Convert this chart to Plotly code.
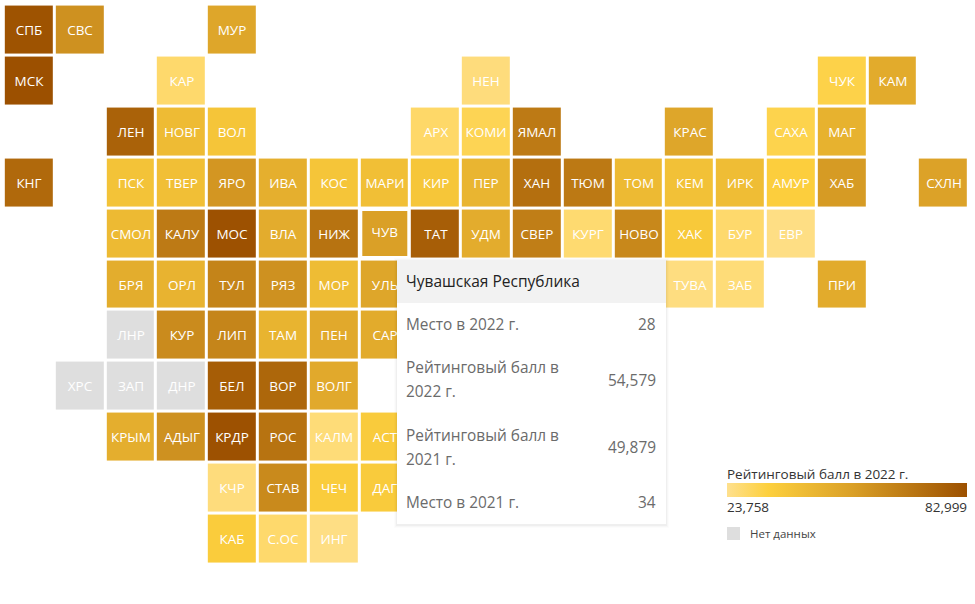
import plotly.graph_objects as go

# Tile-grid data: region code, grid column, grid row, rating score 2022 (None = no data)
regions = ["СПБ","СВС","МУР",
           "МСК","КАР","НЕН","ЧУК","КАМ",
           "ЛЕН","НОВГ","ВОЛ","АРХ","КОМИ","ЯМАЛ","КРАС","САХА","МАГ",
           "КНГ","ПСК","ТВЕР","ЯРО","ИВА","КОС","МАРИ","КИР","ПЕР","ХАН","ТЮМ","ТОМ","КЕМ","ИРК","АМУР","ХАБ","СХЛН",
           "СМОЛ","КАЛУ","МОС","ВЛА","НИЖ","ТАТ","УДМ","СВЕР","КУРГ","НОВО","ХАК","БУР","ЕВР",
           "БРЯ","ОРЛ","ТУЛ","РЯЗ","МОР","УЛЬ","ТУВА","ЗАБ","ПРИ",
           "ЛНР","КУР","ЛИП","ТАМ","ПЕН","САР",
           "ХРС","ЗАП","ДНР","БЕЛ","ВОР","ВОЛГ",
           "КРЫМ","АДЫГ","КРДР","РОС","КАЛМ","АСТ",
           "КЧР","СТАВ","ЧЕЧ","ДАГ",
           "КАБ","С.ОС","ИНГ"]
grid_col = [0,1,4,
            0,3,9,16,17,
            2,3,4,8,9,10,13,15,16,
            0,2,3,4,5,6,7,8,9,10,11,12,13,14,15,16,18,
            2,3,4,5,6,8,9,10,11,12,13,14,15,
            2,3,4,5,6,7,13,14,16,
            2,3,4,5,6,7,
            1,2,3,4,5,6,
            2,3,4,5,6,7,
            4,5,6,7,
            4,5,6]
grid_row = [0]*3 + [1]*5 + [2]*9 + [3]*17 + [4]*13 + [5]*9 + [6]*6 + [7]*6 + [8]*6 + [9]*4 + [10]*3
scores = [82000,60000,52000,
          82999,28000,26000,32500,50000,
          76500,43000,38500,28500,31000,68000,52000,32000,47000,
          74000,39500,41000,58000,48000,38500,41000,38000,45500,72000,68500,43500,40500,42000,34500,56500,53500,
          43500,68000,82500,49500,70500,78000,49500,66500,27500,63000,37000,28000,25000,
          49000,46500,64500,60000,42500,52000,25500,26500,50000,
          None,62000,64000,46000,50500,50000,
          None,None,None,78500,75000,50500,
          48500,60000,82500,70500,26500,36000,
          26000,62500,35500,36000,
          35500,28000,25000]

hover_region = "ЧУВ"
hover_col, hover_row = 7, 4
hover_name = "Чувашская Республика"
score_min, score_max = 23758, 82999
hover_labels = [["Место в 2022 г."],
                ["Рейтинговый балл в", "2022 г."],
                ["Рейтинговый балл в", "2021 г."],
                ["Место в 2021 г."]]
hover_values = ["28", "54,579", "49,879", "34"]
hover_score = 54579

W, H = 975, 604
colorscale = [[0, "#FEE08E"], [0.17, "#FDD03E"], [0.52, "#DAA027"], [1, "#9C5000"]]
n_col, n_row = 19, 11
xs = list(range(n_col)); ys = list(range(n_row))
z = [[None]*n_col for _ in ys]
t = [[""]*n_col for _ in ys]
zna = [[None]*n_col for _ in ys]
tna = [[""]*n_col for _ in ys]
for name, c, r, v in zip(regions, grid_col, grid_row, scores):
    if v is None:
        zna[r][c] = 1; tna[r][c] = name
    else:
        z[r][c] = v; t[r][c] = name

FONT = "Open Sans"
tile_font = dict(family=FONT, size=13.5, color="white")
fig = go.Figure()
fig.add_trace(go.Heatmap(x=xs, y=ys, z=zna, text=tna, texttemplate="%{text}", textfont=tile_font,
                         colorscale=[[0, "#DEDEDE"], [1, "#DEDEDE"]], showscale=False,
                         xgap=3, ygap=3, hoverinfo="skip"))
fig.add_trace(go.Heatmap(x=xs, y=ys, z=z, text=t, texttemplate="%{text}", textfont=tile_font,
                         coloraxis="coloraxis", xgap=3, ygap=3, hoverinfo="skip"))
fig.add_trace(go.Scatter(x=[hover_col], y=[hover_row], mode="markers+text", text=[hover_region],
                         textposition="middle center", textfont=tile_font, hoverinfo="skip",
                         marker=dict(symbol="square", size=45, color=[hover_score], coloraxis="coloraxis",
                                     line=dict(width=0))))

shapes = []
def rect(x0, y0, x1, y1, color):
    shapes.append(dict(type="rect", xref="paper", yref="paper", x0=x0/W, x1=x1/W, y0=1-y0/H, y1=1-y1/H,
                       fillcolor=color, line=dict(width=0), layer="above"))
for d, a in [(3, 0.012), (2, 0.02), (1, 0.03)]:
    rect(397-d, 260-d+1, 666+d, 524+d+1, f"rgba(0,0,0,{a})")
rect(397, 260, 666, 524, "white")
rect(397, 260, 666, 303, "#F2F2F2")
rect(727, 527, 740, 540, "#DEDEDE")

ann = []
def label(x, y, text, size, color, anchor="left"):
    ann.append(dict(xref="paper", yref="paper", x=x/W, y=1-y/H, text=text, showarrow=False, xanchor=anchor,
                    yanchor="middle", align=anchor, xshift=-2 if anchor == "left" else 2,
                    font=dict(family=FONT, size=size, color=color)))
label(406, 281, hover_name, 15.5, "#222222")
line_y = [[325], [368, 392], [436, 460], [503]]
value_y = [325, 381, 448, 503]
for lines, ys_px, val, vy in zip(hover_labels, line_y, hover_values, value_y):
    for line, y in zip(lines, ys_px):
        label(406, y-0.5, line, 15.4, "#6B6B6B")
    label(656, vy-0.5, val, 15.4, "#6B6B6B", "right")
label(727, 473.5, "Рейтинговый балл в 2022 г.", 13.5, "#333333")
label(727, 507, f"{score_min:,}", 13.5, "#333333")
label(967, 507, f"{score_max:,}", 13.5, "#333333", "right")
label(750, 533.5, "Нет данных", 11.5, "#444444")

step_x, x0_px = 50.8, 29.2
step_y, y0_px = 50.9, 30
fig.update_layout(
    width=W, height=H, margin=dict(l=0, r=0, t=0, b=0), autosize=False,
    paper_bgcolor="white", plot_bgcolor="white", showlegend=False,
    xaxis=dict(visible=False, range=[-x0_px/step_x, (W-x0_px)/step_x]),
    yaxis=dict(visible=False, range=[(H-y0_px)/step_y, -y0_px/step_y]),
    coloraxis=dict(cmin=score_min, cmax=score_max, colorscale=colorscale,
                   colorbar=dict(orientation="h", lenmode="pixels", len=240, thickness=14,
                                 x=727/W, xanchor="left", y=1-483/H, yanchor="top", ypad=0, xpad=0,
                                 outlinewidth=0, showticklabels=False, ticks="", title=None)),
    shapes=shapes, annotations=ann, font=dict(family=FONT),
)
fig.write_html("out.html", config=dict(displayModeBar=False),
               post_script="document.body.style.margin='0';document.body.style.overflow='hidden';")
